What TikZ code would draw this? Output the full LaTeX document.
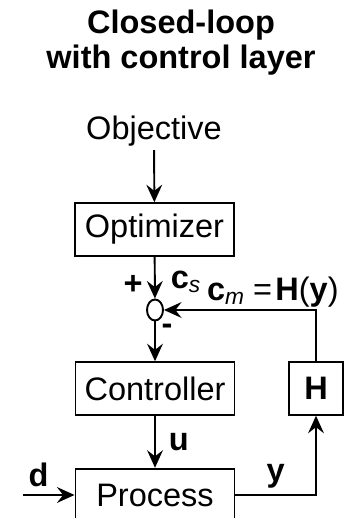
\documentclass[tikz,border=0pt]{standalone}
\usepackage{fontspec}
\setmainfont{Liberation Sans}
\usepackage{tikz}
\usetikzlibrary{arrows.meta}
\usetikzlibrary{positioning}
\usetikzlibrary{shapes}

\begin{document}
\begin{tikzpicture}[
            >={Stealth[length=10pt,width=9pt,inset=3.5pt]},
            every node/.style={font=\fontsize{18.5}{20}\selectfont},
            block/.style={rectangle, draw, line width=1.1pt, minimum width=3.18cm, minimum height=1.05cm, inner sep=0pt},
            summer/.style={ellipse, draw, line width=1.1pt, minimum width=0.32cm, minimum height=0.42cm, inner sep=0pt},
            signal/.style={line width=1.1pt},
        ]

        \useasboundingbox (0,0) rectangle (6.96,10.36);

        % Title
        \node[align=center, font=\fontsize{18.5}{20}\selectfont\bfseries] (title) at (3.62, 9.51) {Closed-loop\\with control layer};

        % Objective and optimizer
        \node[inner sep=2pt] (objective) at (3.08, 7.74) {Objective};
        \node[block] (optimizer) at (3.09, 5.77) {Optimizer};
        \draw[signal, ->] (objective) -- (optimizer);

        % Summing point
        \node[summer] (sum) at (3.1, 4.16) {};
        \draw[signal, ->] (optimizer) -- (sum);
        \node (plus) at (2.66, 4.66) {\textbf{+}};
        \node (minus) at (3.34, 3.78) {\textbf{-}};
        \node (setpoint) at (3.72, 4.72) {\textbf{c}\textsubscript{\textit{s}}};

        % Controller
        \node[block] (controller) at (3.1, 2.59) {Controller};
        \draw[signal, ->] (sum) -- (controller);

        % Process
        \node[block] (process) at (3.1, 0.46) {Process};
        \draw[signal, ->] (controller) -- (process) node[midway, right=4pt] {\textbf{u}};

        % Disturbance
        \coordinate (dstart) at (0.46, 0.46);
        \draw[signal, ->] (dstart) -- (process) node[pos=0.3, above=1pt] {\textbf{d}};

        % Measurement block
        \node[block, minimum width=1.08cm] (hblock) at (6.32, 2.59) {\textbf{H}};
        \draw[signal, ->] (process) -| (hblock) node[pos=0.25, above=0pt] {\textbf{y}};

        % Feedback to summing point
        \draw[signal, ->] (hblock) |- (sum);
        \node[anchor=east, inner sep=0pt] (measured) at (6.78, 4.52) {\textbf{c}\textsubscript{\textit{m}}\hspace{0.25em}=\hspace{0.1em}\textbf{H}(\textbf{y})};

        \end{tikzpicture}
\end{document}
